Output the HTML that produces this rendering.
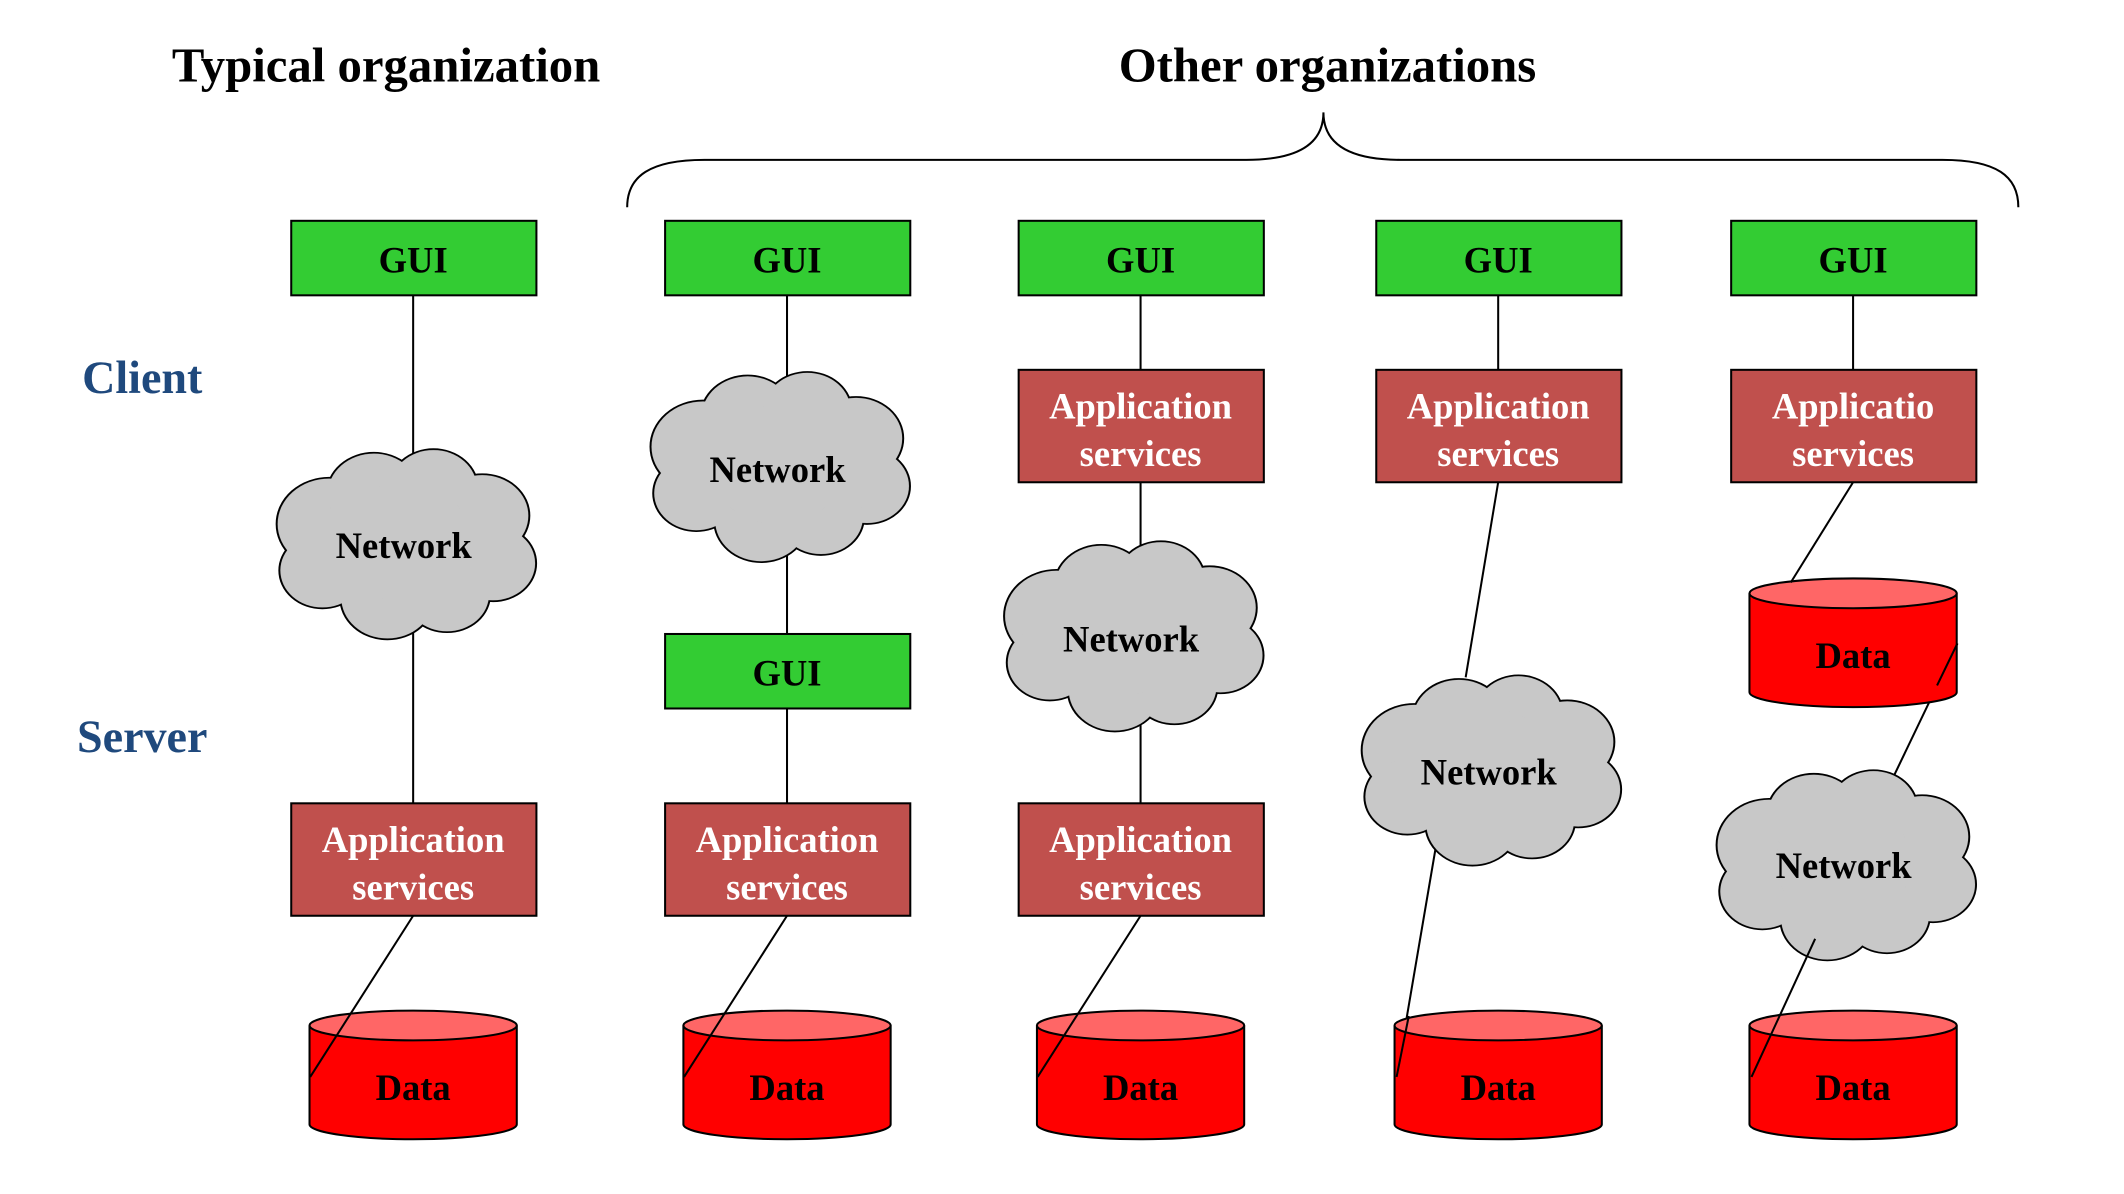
<!DOCTYPE html>
<html><head><meta charset="utf-8"><style>html,body{margin:0;padding:0;background:#fff}svg{display:block}</style></head>
<body>
<svg width="2124" height="1194" viewBox="0 0 1568 881.4" preserveAspectRatio="none" xmlns="http://www.w3.org/2000/svg" font-family="Liberation Serif, serif" font-weight="bold">
<defs>
<g id="cs">
<circle cx="-55" cy="-15" r="38"/><circle cx="-22" cy="-40" r="34"/><circle cx="22" cy="-45" r="32"/><circle cx="58" cy="-22" r="34"/><circle cx="66" cy="18" r="31"/><circle cx="32" cy="44" r="31"/><circle cx="-12" cy="47" r="34"/><circle cx="-60" cy="24" r="31"/><circle cx="0" cy="0" r="50"/>
</g>
<g id="cloud">
<g transform="scale(1,0.88)">
<use href="#cs" fill="#c8c8c8" stroke="#000" stroke-width="3"/>
<use href="#cs" fill="#c8c8c8" stroke="#c8c8c8" stroke-width="0.1"/>
</g>
</g>
<g id="cyl">
<path d="M-76.5,0 V73 A76.5,11 0 0 0 76.5,73 V0" fill="#f00" stroke="#000" stroke-width="1.5"/>
<ellipse cx="0" cy="0" rx="76.5" ry="11" fill="#f66" stroke="#000" stroke-width="1.5"/>
</g>
</defs>
<text x="285" y="60" font-size="36" text-anchor="middle">Typical organization</text>
<text x="980" y="60" font-size="36" text-anchor="middle">Other organizations</text>
<path d="M463,153 C463,130 480,118 520,118 L920,118 C960,118 977,105 977,83 C977,105 994,118 1034,118 L1434,118 C1474,118 1490,130 1490,153" fill="none" stroke="#000" stroke-width="1.5"/>
<text x="105" y="290" font-size="34" fill="#1f497d" text-anchor="middle">Client</text>
<text x="105" y="555" font-size="34" fill="#1f497d" text-anchor="middle">Server</text>
<g stroke="#000" stroke-width="1.5">
<line x1="305" y1="218" x2="305" y2="593"/>
<line x1="581" y1="218" x2="581" y2="593"/>
<line x1="842" y1="218" x2="842" y2="593"/>
<line x1="1106" y1="218" x2="1106" y2="273"/>
<line x1="1106" y1="356" x2="1082" y2="500"/>
<line x1="1060" y1="625" x2="1031" y2="795"/>
<line x1="1368" y1="218" x2="1368" y2="273"/>
<line x1="1445" y1="475" x2="1398" y2="573"/>
</g>
<use href="#cloud" transform="translate(298,400)"/>
<use href="#cloud" transform="translate(574,343)"/>
<use href="#cloud" transform="translate(835,468)"/>
<use href="#cloud" transform="translate(1099,567)"/>
<use href="#cloud" transform="translate(1361,637)"/>
<g font-size="27" text-anchor="middle">
<text x="298" y="412">Network</text><text x="574" y="356">Network</text><text x="835" y="481">Network</text><text x="1099" y="579">Network</text><text x="1361" y="648">Network</text>
</g>
<g fill="#33cc33" stroke="#000" stroke-width="1.5">
<rect x="215" y="163" width="181" height="55"/><rect x="491" y="163" width="181" height="55"/><rect x="752" y="163" width="181" height="55"/><rect x="1016" y="163" width="181" height="55"/><rect x="1278" y="163" width="181" height="55"/><rect x="491" y="468" width="181" height="55"/>
</g>
<g font-size="27" text-anchor="middle">
<text x="305" y="201">GUI</text><text x="581" y="201">GUI</text><text x="842" y="201">GUI</text><text x="1106" y="201">GUI</text><text x="1368" y="201">GUI</text><text x="581" y="506">GUI</text>
</g>
<g fill="#c0504d" stroke="#000" stroke-width="1.5">
<rect x="215" y="593" width="181" height="83"/><rect x="491" y="593" width="181" height="83"/><rect x="752" y="593" width="181" height="83"/>
<rect x="752" y="273" width="181" height="83"/><rect x="1016" y="273" width="181" height="83"/><rect x="1278" y="273" width="181" height="83"/>
</g>
<g font-size="27" text-anchor="middle" fill="#fff">
<text x="305" y="629">Application</text><text x="305" y="664">services</text>
<text x="581" y="629">Application</text><text x="581" y="664">services</text>
<text x="842" y="629">Application</text><text x="842" y="664">services</text>
<text x="842" y="309">Application</text><text x="842" y="344">services</text>
<text x="1106" y="309">Application</text><text x="1106" y="344">services</text>
<text x="1368" y="309">Applicatio</text><text x="1368" y="344">services</text>
</g>
<use href="#cyl" transform="translate(305,757)"/>
<use href="#cyl" transform="translate(581,757)"/>
<use href="#cyl" transform="translate(842,757)"/>
<use href="#cyl" transform="translate(1106,757)"/>
<use href="#cyl" transform="translate(1368,757)"/>
<use href="#cyl" transform="translate(1368,438)"/>
<g stroke="#000" stroke-width="1.5">
<line x1="305" y1="676" x2="229" y2="795"/>
<line x1="581" y1="676" x2="505" y2="795"/>
<line x1="842" y1="676" x2="766" y2="795"/>
<line x1="1040" y1="750" x2="1031" y2="795"/>
<line x1="1368" y1="356" x2="1322" y2="430"/>
<line x1="1445" y1="475" x2="1430" y2="506"/>
<line x1="1340" y1="693" x2="1293" y2="795"/>
</g>
<g font-size="27" text-anchor="middle">
<text x="305" y="812">Data</text><text x="581" y="812">Data</text><text x="842" y="812">Data</text><text x="1106" y="812">Data</text><text x="1368" y="812">Data</text><text x="1368" y="493">Data</text>
</g>
</svg>
</body></html>
